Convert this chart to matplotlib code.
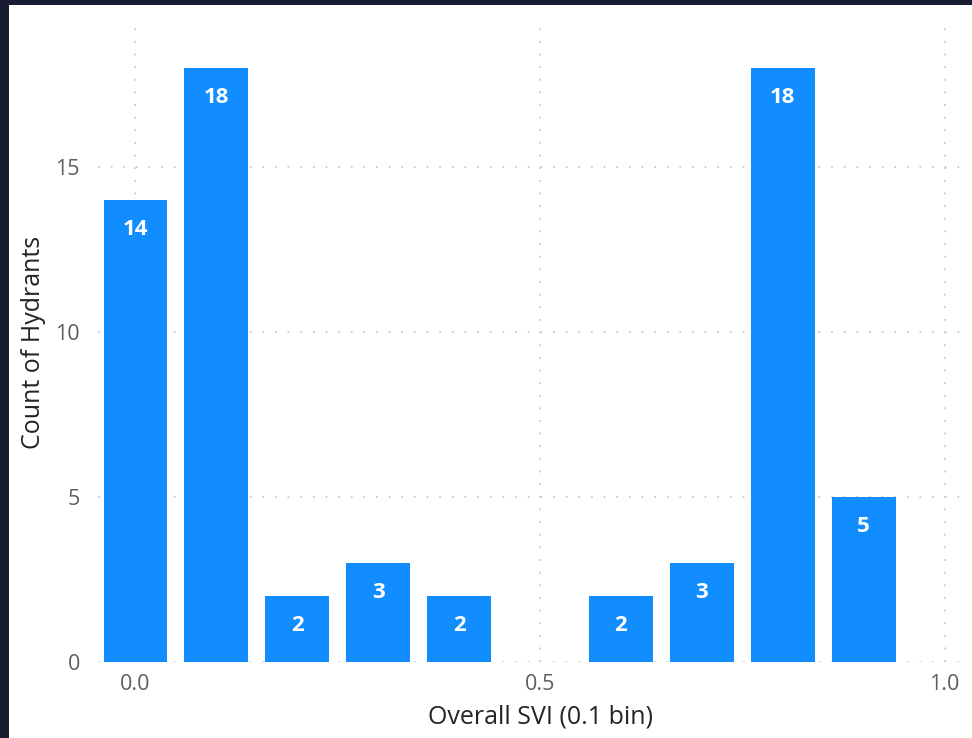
import matplotlib.pyplot as plt
from matplotlib.patches import Rectangle

# hydrant counts per SVI bin (0.1 wide)
bins = [0.0, 0.1, 0.2, 0.3, 0.4, 0.6, 0.7, 0.8, 0.9]
counts = [14, 18, 2, 3, 2, 2, 3, 18, 5]
yticks = [0, 5, 10, 15]
xticks = [0.0, 0.5, 1.0]

plt.rcParams['font.family'] = ['Open Sans', 'DejaVu Sans']

fig = plt.figure(figsize=(9.72, 7.38), dpi=100)
fig.patch.set_facecolor('#181c30')
fig.patches.append(Rectangle((9 / 972, 0), 1, 733 / 738, transform=fig.transFigure,
                             facecolor='white', edgecolor='none', zorder=-10))

ax = fig.add_axes([98 / 972, 76 / 738, 872 / 972, 637 / 738])
ax.set_facecolor('none')

bars = ax.bar(bins, counts, width=0.079, color='#118dff', zorder=2)
for b, c in zip(bars, counts):
    ax.annotate(str(c), (b.get_x() + b.get_width() / 2, c), xytext=(0, -21),
                textcoords='offset points', ha='center', va='center',
                color='white', fontsize=16, fontweight='bold', zorder=3)

ax.set_xlim(-0.0463, 1.0315)
ax.set_ylim(0, 19.3)
ax.set_xticks(xticks)
ax.set_xticklabels(['%.1f' % v for v in xticks])
ax.set_yticks(yticks)

ax.grid(True, color='#cccccc', linestyle=(0, (1, 6)), linewidth=1.3, zorder=1)
for s in ax.spines.values():
    s.set_visible(False)
ax.tick_params(length=0, colors='#605e5c', labelsize=15.5)
ax.tick_params(axis='y', pad=13)
ax.tick_params(axis='x', pad=9)

ax.set_xlabel('Overall SVI (0.1 bin)', fontsize=18, color='#252423')
ax.set_ylabel('Count of Hydrants', fontsize=18, color='#252423')
ax.xaxis.set_label_coords(0.508, -0.066)
ax.yaxis.set_label_coords(-0.06, 0.502)

fig.savefig('out.png', dpi=100, facecolor=fig.get_facecolor())
